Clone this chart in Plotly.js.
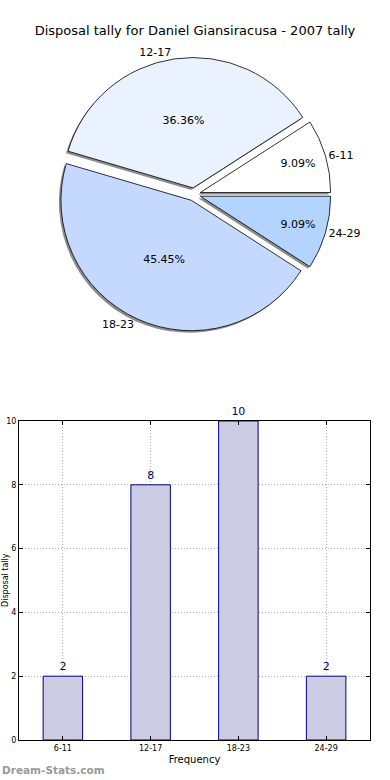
<!DOCTYPE html>
<html><head><meta charset="utf-8">
<script src="https://cdn.plot.ly/plotly-3.0.1.min.js"></script>
<style>html,body{margin:0;padding:0;background:#fff}#chart{width:390px;height:780px}</style>
</head><body><div id="chart"></div>
<script>
const categories = ['6-11', '12-17', '18-23', '24-29'];
const tally = [2, 8, 10, 2];
const pieColors = ['#ffffff', '#eaf1ff', '#c5d9ff', '#b3d4ff'];
const chartTitle = 'Disposal tally for Daniel Giansiracusa - 2007 tally';
const xTitle = 'Frequency';
const yTitle = 'Disposal tally';
const watermark = 'Dream-Stats.com';

const FONT = 'DejaVu Sans, Verdana, sans-serif';
const pull = [0.05, 0.05, 0.05, 0.05];
const ROT = 90 - 360 * tally[0] / tally.reduce((a, b) => a + b, 0);
const pieDom = {x: [0.128, 0.867], y: [0.5753, 0.9263]};
const sx = 2/390, sy = 2/780;

const shadow = {
  type: 'pie', values: tally, labels: categories, sort: false,
  direction: 'counterclockwise', rotation: ROT, pull: pull,
  domain: {x: [pieDom.x[0]-sx, pieDom.x[1]-sx], y: [pieDom.y[0]-sy, pieDom.y[1]-sy]},
  marker: {colors: categories.map(() => '#8c8c8c'), line: {width: 0}},
  textinfo: 'none', hoverinfo: 'skip', showlegend: false
};
const pie = {
  type: 'pie', values: tally, labels: categories, sort: false,
  direction: 'counterclockwise', rotation: ROT, pull: pull,
  domain: pieDom,
  marker: {colors: pieColors, line: {color: '#000', width: 0.8}},
  texttemplate: '%{percent:.2%}', textposition: 'inside', insidetextorientation: 'horizontal',
  textfont: {family: FONT, size: 11, color: '#000'},
  showlegend: false
};
const pieLabels = {
  type: 'pie', values: tally, labels: categories, sort: false,
  direction: 'counterclockwise', rotation: ROT, pull: pull,
  domain: pieDom,
  marker: {colors: categories.map(() => 'rgba(0,0,0,0)'), line: {width: 0}},
  textinfo: 'label', textposition: 'outside', automargin: false,
  textfont: {family: FONT, size: 11, color: '#000'},
  hoverinfo: 'skip', showlegend: false
};
const bars = {
  type: 'bar', x: categories, y: tally, width: 0.45,
  marker: {color: '#ccccE5', line: {color: '#000080', width: 1}},
  text: tally.map(String), textposition: 'outside', cliponaxis: false,
  textfont: {family: FONT, size: 11, color: '#000080'},
  xaxis: 'x', yaxis: 'y', showlegend: false
};

const layout = {
  width: 390, height: 780,
  margin: {l: 0, r: 0, t: 0, b: 0},
  paper_bgcolor: '#fff', plot_bgcolor: '#fff',
  font: {family: FONT, color: '#000'},
  title: {text: chartTitle, font: {family: FONT, size: 13, color: '#000'},
          x: 0.5, xanchor: 'center', y: 1 - 30/780, yanchor: 'middle', yref: 'container'},
  xaxis: {
    domain: [19/390, 370/390], range: [-0.5, 3.5], type: 'category',
    showline: true, linecolor: '#000', linewidth: 1, mirror: 'ticks',
    ticks: 'inside', ticklen: 4, tickcolor: '#000',
    showgrid: true, gridcolor: '#aaaaaa', griddash: '1px,2px', gridwidth: 1,
    tickfont: {family: FONT, size: 8, color: '#000'},
    title: {text: xTitle, font: {family: FONT, size: 10, color: '#000'}, standoff: 4},
    zeroline: false, fixedrange: true
  },
  yaxis: {
    domain: [1 - 740/780, 1 - 421/780], range: [0, 10],
    tickvals: [0, 2, 4, 6, 8, 10],
    showline: true, linecolor: '#000', linewidth: 1, mirror: 'ticks',
    ticks: 'inside', ticklen: 4, tickcolor: '#000',
    showgrid: true, gridcolor: '#aaaaaa', griddash: '1px,2px', gridwidth: 1,
    tickfont: {family: FONT, size: 8, color: '#000'},
    zeroline: false, fixedrange: true
  },
  annotations: [
    {text: yTitle, xref: 'paper', yref: 'paper', x: 5/390, y: 1 - 580/780,
     xanchor: 'center', yanchor: 'middle', textangle: -90, showarrow: false,
     font: {family: FONT, size: 8, color: '#000'}},
    {text: '<b>' + watermark + '</b>', xref: 'paper', yref: 'paper', x: 0, y: 1 - 770/780,
     xanchor: 'left', yanchor: 'middle', showarrow: false,
     font: {family: FONT, size: 10.5, color: '#999'}}
  ]
};

Plotly.newPlot('chart', [shadow, pie, pieLabels, bars], layout, {displayModeBar: false, staticPlot: true});
</script></body></html>
